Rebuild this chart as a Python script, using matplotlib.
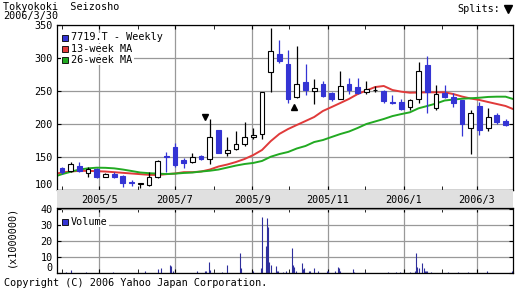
import matplotlib
matplotlib.use("Agg")
import matplotlib.pyplot as plt
import matplotlib.dates as mdates
from matplotlib.patches import Rectangle
import pandas as pd

W, H = 528, 289

# weekly candles for 7719.T
weeks = pd.date_range("2005-04-01", periods=52, freq="7D")
opens = [133, 129, 136, 126, 132, 120, 124, 121, 112, 109, 108, 120, 152, 165, 146, 142, 151,
         147, 191, 156, 162, 170, 180, 185, 279, 306, 291, 241, 264, 250, 261, 247, 238, 261,
         256, 249, 251, 250, 233, 233, 226, 238, 289, 224, 247, 241, 236, 194, 227, 194, 214, 204]
highs = [135, 142, 142, 135, 133, 126, 127, 122, 115, 111, 127, 145, 158, 171, 148, 156, 153,
         207, 191, 180, 189, 203, 194, 249, 345, 327, 312, 318, 291, 268, 265, 248, 280, 270,
         270, 265, 258, 252, 244, 238, 238, 294, 303, 259, 259, 247, 236, 221, 233, 224, 217, 207]
lows = [124, 127, 127, 120, 118, 119, 118, 105, 106, 103, 106, 118, 127, 135, 133, 141, 145,
        139, 156, 151, 160, 167, 177, 177, 248, 292, 232, 239, 244, 230, 241, 235, 238, 245,
        245, 245, 248, 232, 231, 221, 221, 232, 217, 221, 240, 226, 182, 155, 183, 189, 200, 197]
closes = [127, 139, 129, 132, 120, 124, 120, 111, 111, 110, 120, 144, 150, 138, 141, 150, 147,
          180, 156, 161, 170, 180, 183, 248, 311, 295, 238, 261, 252, 255, 242, 238, 258, 252,
          247, 253, 252, 235, 232, 223, 236, 280, 248, 245, 241, 232, 200, 217, 191, 211, 203, 199]

# moving averages
ma_dates = [pd.Timestamp("2005-03-28")] + list(weeks) + [pd.Timestamp("2006-03-30")]
ma13 = [125, 126.5, 128, 129, 129, 128.5, 128, 127, 126, 125, 124, 123, 122.7, 124, 125, 127,
        127, 128, 131, 135.6, 138.6, 142.4, 147, 153, 160.6, 174, 185, 192.4, 198.5, 204.5,
        210.6, 219.7, 225.7, 231.8, 238, 245.4, 250.7, 256, 257.6, 251.5, 249, 247.4, 247.7,
        248, 248, 248, 245.4, 241.6, 238.6, 236.4, 233.3, 230.3, 227.3, 222.7]
ma26 = [121.5, 124, 127.6, 131, 132.8, 133.8, 133.6, 132.8, 131, 128.8, 126.5, 125.5, 124.8,
        124.2, 124.8, 125.8, 126.5, 128, 129.2, 131, 134, 137, 139.4, 141, 144, 150.4, 154.5,
        157.6, 162.9, 166.7, 172.7, 175.7, 180.3, 184.8, 188.6, 194, 200, 203.8, 207.6, 212,
        215, 217.7, 223.8, 227.3, 231, 235.6, 237, 238.3, 239, 239.8, 241, 241.4, 241.4, 237.9]

# daily volume, millions of shares
vol_days = ["2005-04-04", "2005-04-08", "2005-04-20", "2005-05-12", "2005-06-07", "2005-06-17",
            "2005-06-20", "2005-06-27", "2005-06-28", "2005-06-29", "2005-07-19", "2005-07-25",
            "2005-07-26", "2005-07-28", "2005-07-29", "2005-08-08", "2005-08-12", "2005-08-22",
            "2005-08-23", "2005-09-02", "2005-09-08", "2005-09-09", "2005-09-12", "2005-09-13",
            "2005-09-14", "2005-09-15", "2005-09-16", "2005-09-20", "2005-09-21", "2005-09-22",
            "2005-09-26", "2005-09-28", "2005-10-03", "2005-10-04", "2005-10-05", "2005-10-06",
            "2005-10-11", "2005-10-12", "2005-10-13", "2005-10-17", "2005-10-18", "2005-10-21",
            "2005-10-24", "2005-10-31", "2005-11-01", "2005-11-07", "2005-11-09", "2005-11-10",
            "2005-11-11", "2005-11-21", "2005-11-22", "2005-12-01", "2005-12-19", "2005-12-26",
            "2005-12-29", "2006-01-06", "2006-01-10", "2006-01-11", "2006-01-12", "2006-01-13",
            "2006-01-16", "2006-01-17", "2006-01-18", "2006-01-19", "2006-01-20", "2006-01-23",
            "2006-02-06", "2006-02-14", "2006-02-22", "2006-03-09", "2006-03-29"]
vol_mil = [0.5, 1.9, 0.4, 0.4, 1.0, 2.3, 3.3, 5.0, 4.5, 1.0, 1.0, 1.0, 1.2, 7.0, 2.0, 0.8, 5.0,
           12.7, 3.0, 1.0, 3.0, 34.8, 17.0, 34.6, 28.5, 7.0, 5.0, 4.5, 1.0, 1.0, 0.8, 1.0, 15.4,
           5.0, 3.5, 1.5, 6.0, 2.5, 3.0, 1.0, 1.0, 3.3, 1.5, 1.0, 1.0, 1.5, 4.0, 3.0, 1.0, 2.3,
           0.8, 0.6, 0.4, 0.4, 0.4, 0.8, 1.5, 12.3, 4.0, 3.3, 6.0, 3.0, 1.5, 1.0, 1.0, 0.8, 0.4,
           0.4, 0.4, 1.2, 1.0]

split_marks = [("2005-07-25", 210, "v"), ("2005-10-05", 226, "^")]
month_labels = ["2005/5", "2005/7", "2005/9", "2005/11", "2006/1", "2006/3"]

blue = "#3434d4"
red = "#e03a3a"
green = "#22aa22"
grid_c = "#999999"

plt.rcParams["font.family"] = ["DejaVu Sans Mono", "DejaVu Sans"]
plt.rcParams["font.size"] = 7.3

fig = plt.figure(figsize=(W / 100, H / 100), dpi=100)
fig.patch.set_facecolor("white")


def px_box(x0, y0, x1, y1):
    return [x0 / W, 1 - y1 / H, (x1 - x0) / W, (y1 - y0) / H]


ax = fig.add_axes(px_box(57, 25, 513, 190))
axb = fig.add_axes(px_box(57, 190, 513, 208), sharex=ax)
axv = fig.add_axes(px_box(57, 208, 513, 273), sharex=ax)

# moving averages under the candles
ax.plot(ma_dates, ma13, color=red, lw=1.4, zorder=2)
ax.plot(ma_dates, ma26, color=green, lw=1.4, zorder=2)

for d, o, h, l, c in zip(weeks, opens, highs, lows, closes):
    up = c >= o
    col = "black" if up else blue
    ax.vlines(d, l, h, color=col, lw=0.9, zorder=3)
    body = max(abs(c - o), 1.2)
    ax.bar(d, body, bottom=min(o, c), width=3.8,
           facecolor="white" if up else blue,
           edgecolor="black" if up else blue, lw=0.8, zorder=4)

for d, y, m in split_marks:
    ax.plot(pd.Timestamp(d), y, marker=m, color="black", ms=5, zorder=5)

ax.set_ylim(100, 350)
ax.set_yticks([100, 150, 200, 250, 300, 350])
ax.set_xlim(pd.Timestamp("2005-03-28"), pd.Timestamp("2006-03-30"))

major = mdates.MonthLocator(bymonth=[1, 3, 5, 7, 9, 11])
minor = mdates.MonthLocator()
for a in (ax, axv):
    a.xaxis.set_major_locator(major)
    a.xaxis.set_minor_locator(minor)
    a.grid(True, which="major", color=grid_c, lw=0.9)
    a.set_axisbelow(True)
    a.tick_params(axis="x", which="both", direction="in", length=3, top=True, bottom=True,
                  labelbottom=False)
    a.tick_params(axis="y", direction="in", length=3, left=True, right=True, pad=3)
    for s in a.spines.values():
        s.set_color("black")
        s.set_linewidth(0.9)

ax.get_yticklabels()[0].set_va("bottom")

# date band
axb.set_facecolor("#e0e0e0")
for s in axb.spines.values():
    s.set_visible(False)
axb.tick_params(left=False, bottom=False, labelleft=False, labelbottom=False)
for lab in month_labels:
    yr, mo = lab.split("/")
    axb.text(pd.Timestamp(int(yr), int(mo), 1), 0.45, lab, ha="center", va="center",
             transform=axb.get_xaxis_transform())

# volume
axv.vlines(pd.to_datetime(vol_days), 0, vol_mil, color="#2e2e9c", lw=0.8)
axv.set_ylim(0, 40.6)
axv.set_yticks([0, 10, 20, 30, 40])
axv.get_yticklabels()[0].set_va("bottom")


def legend_item(x, y, color, text, w=80):
    fig.add_artist(Rectangle(((x - 1) / W, 1 - (y + 5) / H), w / W, 10 / H,
                             transform=fig.transFigure, facecolor="white", edgecolor="none",
                             zorder=9))
    fig.add_artist(Rectangle((x / W, 1 - (y + 3) / H), 6 / W, 6 / H, transform=fig.transFigure,
                             facecolor=color, edgecolor="black", lw=0.6, zorder=10))
    fig.text((x + 9) / W, 1 - y / H, text, va="center", ha="left", zorder=11)


legend_item(62, 37.5, blue, "7719.T - Weekly", 104)
legend_item(62, 48.8, red, "13-week MA", 73)
legend_item(62, 60, green, "26-week MA", 73)
legend_item(62, 222, blue, "Volume", 48)

fig.text(3 / W, 1 - 7 / H, "Tokyokoki  Seizosho", va="center", ha="left")
fig.text(3 / W, 1 - 15.5 / H, "2006/3/30", va="center", ha="left")
fig.text(457 / W, 1 - 9.5 / H, "Splits:", va="center", ha="left")
fig.add_artist(plt.Line2D([507.5 / W], [1 - 9 / H], marker="v", color="black", ms=6,
                          transform=fig.transFigure))
fig.text(11 / W, 1 - 236 / H, "(x1000000)", rotation=90, va="center", ha="center")
fig.text(4 / W, 1 - 283 / H, "Copyright (C) 2006 Yahoo Japan Corporation.", va="center",
         ha="left")

fig.savefig("out.png", dpi=100)
